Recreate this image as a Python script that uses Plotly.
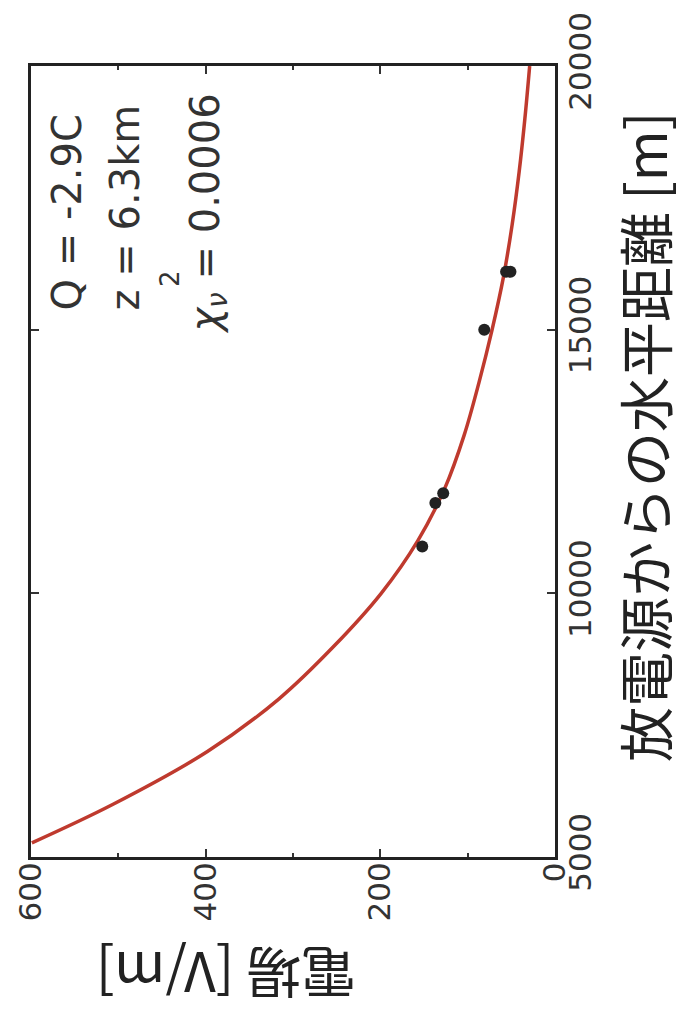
import plotly.graph_objects as go

# ---- data ----
curve_distance = [5268, 6000, 7000, 8000, 9000, 10000, 11000, 12000, 13000, 14000, 15000,
                  16000, 17000, 18000, 19000, 20000]
curve_field = [599, 506, 398, 316, 253, 199, 157, 126, 104, 87, 72, 59, 49, 41, 34.5, 29]

obs_distance = [10888, 11713, 11900, 15000, 16100, 16100]
obs_field = [152, 137, 128, 81, 56, 51]

field_ticks = [0, 200, 400, 600]
field_minor = [100, 300, 500]
distance_ticks = [5000, 10000, 15000, 20000]

label_q = "Q = -2.9C"
label_z = "z = 6.3km"
label_chi = "<i>χ</i><sub><i>ν</i></sub> = 0.0006"
label_chi_sup = "2"
title_distance = "放電源からの水平距離 [m]"
title_field = "電場 [V/m]"

W, H = 684, 1021
L, R, T, B = 21, 129, 57, 164
pw, ph = W - L - R, H - T - B


def px(xp):
    return (xp - L) / pw


def py(yp):
    return (H - B - yp) / ph


fig = go.Figure()
fig.add_trace(go.Scatter(
    x=curve_field, y=curve_distance, mode="lines",
    line=dict(color="#bf3a2e", width=3.5, shape="spline", smoothing=1.0),
    hoverinfo="skip", showlegend=False, cliponaxis=True,
))
fig.add_trace(go.Scatter(
    x=obs_field, y=obs_distance, mode="markers",
    marker=dict(color="#222222", size=12),
    showlegend=False,
))

tickfont = dict(family="DejaVu Sans", size=31, color="#333333")
fig.update_layout(
    width=W, height=H,
    margin=dict(l=L, r=R, t=T, b=B, pad=0),
    paper_bgcolor="white", plot_bgcolor="white",
    xaxis=dict(
        range=[600, 0], tickvals=field_ticks, ticktext=[str(v) for v in field_ticks],
        ticks="inside", ticklen=8, tickwidth=2, tickcolor="#333333",
        minor=dict(tickvals=field_minor, ticks="inside", ticklen=4, tickwidth=1.5, tickcolor="#333333"),
        showline=True, linewidth=3, linecolor="#222222", mirror="allticks",
        showgrid=False, zeroline=False, tickangle=-90, tickfont=tickfont,
        ticklabelstandoff=-10,
    ),
    yaxis=dict(
        range=[5000, 20000], side="right", tickvals=distance_ticks,
        ticktext=[str(v) for v in distance_ticks],
        ticks="inside", ticklen=8, tickwidth=2, tickcolor="#333333",
        showline=True, linewidth=3, linecolor="#222222", mirror="allticks",
        showgrid=False, zeroline=False, tickangle=-90, tickfont=tickfont,
        ticklabelstandoff=-4,
    ),
)

annfont = dict(family="DejaVu Sans", size=40, color="#333333")
anns = [
    dict(text=label_q, x=px(58), y=py(306), xanchor="center", yanchor="bottom", font=annfont),
    dict(text=label_z, x=px(117), y=py(306), xanchor="center", yanchor="bottom", font=annfont),
    dict(text=label_chi, x=px(201), y=py(330), xanchor="center", yanchor="bottom", font=annfont),
    dict(text=label_chi_sup, x=px(162), y=py(272), xanchor="center", yanchor="middle",
         font=dict(family="DejaVu Sans", size=26, color="#333333")),
]
for a in anns:
    fig.add_annotation(xref="paper", yref="paper", showarrow=False, textangle=-90, **a)

titlefont = dict(family="Noto Sans CJK JP", size=55, color="#222222")
fig.add_annotation(xref="paper", yref="paper", showarrow=False, textangle=-90,
                   text=title_distance, x=px(644), y=py(432),
                   xanchor="center", yanchor="middle", font=titlefont)
fig.add_annotation(xref="paper", yref="paper", showarrow=False, textangle=180,
                   text=title_field, x=px(220), y=py(978),
                   xanchor="center", yanchor="middle", font=titlefont)

fig.write_html("out.html")
